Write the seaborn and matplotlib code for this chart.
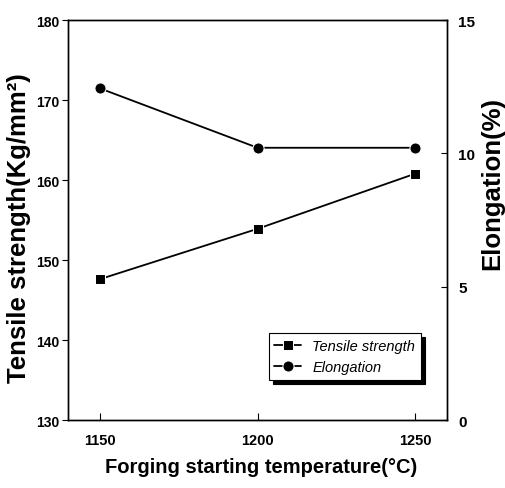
import matplotlib
matplotlib.use("Agg")
import matplotlib.pyplot as plt
import seaborn as sns

# ==============================
# Data
# ==============================
temperatures = [1150, 1200, 1250]
tensile_strength = [147.6, 153.9, 160.8]
elongation = [12.44, 10.21, 10.21]

x_ticks = [1150, 1200, 1250]
left_ticks = [130, 140, 150, 160, 170, 180]
right_ticks = [0, 5, 10, 15]

# ==============================
# Style
# ==============================
sns.set_style("ticks")
plt.rcParams['font.family'] = ['Liberation Sans', 'DejaVu Sans']
plt.rcParams.update({'text.color': 'black', 'axes.labelcolor': 'black',
                     'xtick.color': 'black', 'ytick.color': 'black'})

fig = plt.figure(figsize=(5.05, 4.89), dpi=100)
ax = fig.add_axes([0.135, 0.139, 0.750, 0.818])
ax2 = ax.twinx()

sns.lineplot(x=temperatures, y=tensile_strength, marker='s', markersize=7,
             color='black', lw=1.3, ax=ax, label='Tensile strength', legend=False)
sns.lineplot(x=temperatures, y=elongation, marker='o', markersize=8,
             color='black', lw=1.3, ax=ax2, label='Elongation', legend=False)

ax.set_xlim(1140, 1260)
ax.set_ylim(130, 180)
ax2.set_ylim(0, 15)
ax.set_xticks(x_ticks)
ax.set_yticks(left_ticks)
ax2.set_yticks(right_ticks)

for a in (ax, ax2):
    for s in a.spines.values():
        s.set_visible(True)
        s.set_linewidth(1.0)
        s.set_color('black')

ax.tick_params(axis='x', direction='in', length=5, labelsize=10.5, pad=9)
ax.tick_params(axis='y', direction='out', length=4, labelsize=10, pad=2)
ax2.tick_params(axis='y', direction='in', length=4, labelsize=11, pad=8)
for lab in ax.get_xticklabels() + ax.get_yticklabels() + ax2.get_yticklabels():
    lab.set_fontweight('bold')

ax.set_xlabel('Forging starting temperature(\u00b0C)', fontsize=14.5, fontweight='bold')
ax.xaxis.set_label_coords(0.509, -0.0925)
ax.set_ylabel('Tensile strength(Kg/mm\u00b2)', fontsize=18.5, fontweight='bold')
ax.yaxis.set_label_coords(-0.097, 0.4825)
ax2.set_ylabel('Elongation(%)', fontsize=18.5, fontweight='bold')
ax2.yaxis.set_label_coords(1.087, 0.595)

h1, l1 = ax.get_legend_handles_labels()
h2, l2 = ax2.get_legend_handles_labels()
leg = ax2.legend(h1 + h2, l1 + l2, loc='upper left', bbox_to_anchor=(0.51, 0.235),
                 frameon=True, fancybox=False, handlelength=1.8,
                 shadow={'color': 'black', 'alpha': 1.0, 'ox': 3, 'oy': -3},
                 prop={'style': 'italic', 'size': 10.5})
leg.get_frame().set_edgecolor('black')
leg.get_frame().set_linewidth(0.8)

fig.savefig('out.png', dpi=100)
